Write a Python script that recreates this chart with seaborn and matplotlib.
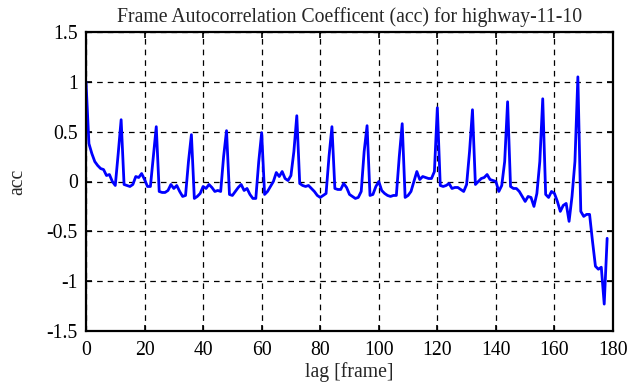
import matplotlib
matplotlib.use("Agg")
import matplotlib.pyplot as plt
import seaborn as sns
import numpy as np
import pandas as pd

acc = [
    1.00, 0.38, 0.28, 0.20, 0.16, 0.13, 0.12, 0.06, 0.07, 0.00,   # 0-9
    -0.04, 0.28, 0.62, -0.03, -0.04, -0.05, -0.03, 0.05, 0.04, 0.08,  # 10-19
    0.02, -0.05, -0.05, 0.25, 0.55, -0.10, -0.11, -0.11, -0.09, -0.03,  # 20-29
    -0.07, -0.04, -0.10, -0.15, -0.14, 0.20, 0.47, -0.17, -0.15, -0.12,  # 30-39
    -0.05, -0.07, -0.03, -0.06, -0.10, -0.09, -0.10, 0.25, 0.51, -0.13,  # 40-49
    -0.14, -0.10, -0.06, -0.03, -0.09, -0.07, -0.13, -0.17, -0.17, 0.20,  # 50-59
    0.49, -0.13, -0.10, -0.05, 0.00, 0.09, 0.05, 0.10, 0.03, 0.01,  # 60-69
    0.06, 0.30, 0.66, -0.02, -0.04, -0.05, -0.04, -0.07, -0.10, -0.14,  # 70-79
    -0.16, -0.14, -0.12, 0.25, 0.55, -0.07, -0.08, -0.08, -0.02, -0.06,  # 80-89
    -0.13, -0.15, -0.17, -0.16, -0.10, 0.30, 0.56, -0.14, -0.13, -0.05,  # 90-99
    0.00, -0.09, -0.12, -0.14, -0.15, -0.14, -0.14, 0.25, 0.58, -0.16,  # 100-109
    -0.14, -0.10, 0.00, 0.10, 0.02, 0.05, 0.04, 0.03, 0.03, 0.10,  # 110-119
    0.74, -0.04, -0.05, -0.04, -0.02, -0.07, -0.06, -0.06, -0.08, -0.10,  # 120-129
    -0.03, 0.30, 0.72, -0.03, 0.00, 0.03, 0.04, 0.07, 0.02, 0.01,  # 130-139
    0.00, -0.10, -0.04, 0.20, 0.80, -0.05, -0.07, -0.07, -0.10, -0.15,  # 140-149
    -0.20, -0.15, -0.16, -0.25, -0.12, 0.20, 0.83, -0.13, -0.16, -0.10,  # 150-159
    -0.12, -0.20, -0.30, -0.24, -0.22, -0.40, -0.15, 0.20, 1.05, -0.30,  # 160-169
    -0.35, -0.33, -0.33, -0.60, -0.85, -0.88, -0.86, -1.23, -0.57,  # 170-178
]
lags = list(range(len(acc)))

x_ticks = [0, 20, 40, 60, 80, 100, 120, 140, 160, 180]
y_ticks = [-1.5, -1, -0.5, 0, 0.5, 1, 1.5]
y_tick_labels = ["-1.5", "-1", "-0.5", "0", "0.5", "1", "1.5"]

title = "Frame Autocorrelation Coefficent (acc) for highway-11-10"
xlabel = "lag [frame]"
ylabel = "acc"

df = pd.DataFrame({"lag": lags, "acc": acc})

sns.set_style("white")
plt.rcParams["font.family"] = ["Liberation Serif", "DejaVu Serif"]
FS = 14.2

fig = plt.figure(figsize=(6.41, 3.87), dpi=100)
ax = fig.add_axes([86 / 641, 1 - 331 / 387, (613 - 86) / 641, (331 - 32) / 387])

sns.lineplot(data=df, x="lag", y="acc", ax=ax, color="#0000ff", linewidth=2.0)

ax.set_xlim(0, 180)
ax.set_ylim(-1.5, 1.5)
ax.set_xticks(x_ticks)
ax.set_xticklabels([str(t) for t in x_ticks])
ax.set_yticks(y_ticks)
ax.set_yticklabels(y_tick_labels)
ax.grid(True, color="black", linestyle=(0, (4.5, 4)), linewidth=0.9)
ax.set_axisbelow(True)
for s in ax.spines.values():
    s.set_color("black")
    s.set_linewidth(1.6)
    s.set_visible(True)
ax.tick_params(axis="x", pad=7)
ax.tick_params(axis="y", pad=6)
ax.tick_params(direction="in", length=4.5, width=1.2, top=True, right=True,
               bottom=True, left=True, colors="black", labelsize=FS)
ax.set_title(title, fontsize=FS, pad=7)
ax.set_xlabel(xlabel, fontsize=FS, labelpad=2)
ax.set_ylabel(ylabel, fontsize=FS, labelpad=14)

fig.savefig("out.png", dpi=100)
